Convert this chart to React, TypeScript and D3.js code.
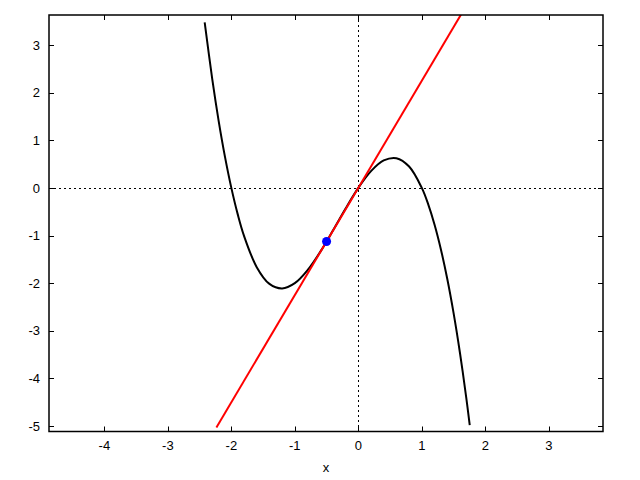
import React from "react";
import * as d3 from "d3";

const xTicks = [-4, -3, -2, -1, 0, 1, 2, 3];
const yTicks = [3, 2, 1, 0, -1, -2, -3, -4, -5];

// curve samples
const curveX = [-2.42, -2.3, -2.2, -2.1, -2.0, -1.9, -1.8, -1.6, -1.4, -1.2, -1.0, -0.8, -0.6, -0.4, -0.2, 0, 0.2, 0.4, 0.6, 0.8, 1.0, 1.1, 1.2, 1.3, 1.4, 1.5, 1.6, 1.7, 1.755];
const curveY = [3.476, 2.277, 1.408, 0.651, 0, -0.551, -1.008, -1.664, -2.016, -2.112, -2.0, -1.728, -1.344, -0.896, -0.432, 0, 0.352, 0.576, 0.624, 0.448, 0, -0.341, -0.768, -1.287, -1.904, -2.625, -3.456, -4.403, -4.98];

// tangent line
const lineX = [-2.235, 1.65];
const lineY = [-5.03, 3.7125];

// point of tangency
const pointX = [-0.5];
const pointY = [-1.125];

const W = 640, H = 480;
const L = 49, R = 603, T = 15, B = 431.5;

export default function App() {
  const x = d3.scaleLinear().domain([-4.872, 3.854]).range([L, R]);
  const y = d3.scaleLinear().domain([-5.115, 3.63]).range([B, T]);
  const curvePts: [number, number][] = curveX.map((v, i) => [v, curveY[i]]);
  const linePts: [number, number][] = lineX.map((v, i) => [v, lineY[i]]);
  const curvePath = d3.line<[number, number]>().x(d => x(d[0])).y(d => y(d[1])).curve(d3.curveCatmullRom)(curvePts) || "";
  const linePath = d3.line<[number, number]>().x(d => x(d[0])).y(d => y(d[1]))(linePts) || "";
  const font = "'Liberation Sans', Arial, sans-serif";
  const tl = 5;
  return (
    <svg width={W} height={H} style={{ position: "absolute", left: 0, top: 0, background: "#fff" }}>
      <defs>
        <clipPath id="plotclip">
          <rect x={L} y={T} width={R - L} height={B - T} />
        </clipPath>
      </defs>
      <rect x={0} y={0} width={W} height={H} fill="#fff" />
      {/* zero axes */}
      <line x1={L} x2={R} y1={Math.round(y(0)) + 0.5} y2={Math.round(y(0)) + 0.5} stroke="#000" strokeWidth={1} strokeDasharray="2,3" />
      <line x1={Math.round(x(0)) + 0.5} x2={Math.round(x(0)) + 0.5} y1={T} y2={B} stroke="#000" strokeWidth={1} strokeDasharray="2,3" />
      {/* ticks */}
      {xTicks.map(t => (
        <g key={"x" + t}>
          <line x1={Math.round(x(t)) + 0.5} x2={Math.round(x(t)) + 0.5} y1={B} y2={B - tl} stroke="#000" />
          <line x1={Math.round(x(t)) + 0.5} x2={Math.round(x(t)) + 0.5} y1={T} y2={T + tl} stroke="#000" />
          <text x={x(t)} y={450} textAnchor="middle" fontFamily={font} fontSize={13}>{t}</text>
        </g>
      ))}
      {yTicks.map(t => (
        <g key={"y" + t}>
          <line x1={L} x2={L + tl} y1={Math.round(y(t)) + 0.5} y2={Math.round(y(t)) + 0.5} stroke="#000" />
          <line x1={R} x2={R - tl} y1={Math.round(y(t)) + 0.5} y2={Math.round(y(t)) + 0.5} stroke="#000" />
          <text x={40} y={y(t) + 4.7} textAnchor="end" fontFamily={font} fontSize={13}>{t}</text>
        </g>
      ))}
      <g clipPath="url(#plotclip)">
        <path d={curvePath} fill="none" stroke="#000" strokeWidth={2} />
        <path d={linePath} fill="none" stroke="#f00" strokeWidth={2} />
        {pointX.map((v, i) => (
          <circle key={i} cx={x(v)} cy={y(pointY[i])} r={4.5} fill="#00f" />
        ))}
      </g>
      {/* frame */}
      <rect x={L} y={T} width={R - L} height={B - T} fill="none" stroke="#000" strokeWidth={1.5} />
      <text x={(L + R) / 2} y={472} textAnchor="middle" fontFamily={font} fontSize={13}>x</text>
    </svg>
  );
}
